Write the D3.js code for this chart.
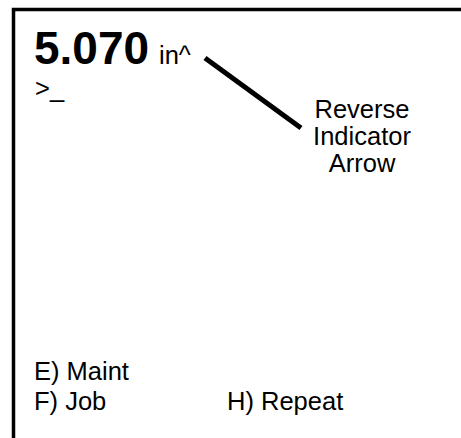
<!DOCTYPE html>
<html>
<head>
<meta charset="utf-8">
<script src="https://cdn.jsdelivr.net/npm/d3@7"></script>
<style>
  body { margin: 0; background: #fff; }
  svg text { font-family: "Liberation Sans", Arial, sans-serif; fill: #000; }
</style>
</head>
<body>
<div id="screen"></div>
<script>
var reading = "5.070";
var unit = "in^";
var prompt = ">_";
var calloutLines = ["Reverse", "Indicator", "Arrow"];
var menuLeft = ["E) Maint", "F) Job"];
var menuRight = ["", "H) Repeat"];

var width = 461, height = 438;
var fs = 25.5;

var svg = d3.select("#screen").append("svg")
  .attr("width", width)
  .attr("height", height);

// screen frame, runs off the right and bottom edge
svg.append("path")
  .attr("d", "M13.5," + height + "V9.5H" + width)
  .attr("fill", "none")
  .attr("stroke", "#000")
  .attr("stroke-width", 3.5);

svg.append("text")
  .attr("x", 34)
  .attr("y", 64)
  .attr("font-size", 46)
  .attr("font-weight", "bold")
  .text(reading);

svg.append("text")
  .attr("x", 159)
  .attr("y", 64)
  .attr("font-size", fs)
  .text(unit);

svg.append("text")
  .attr("x", 35)
  .attr("y", 97)
  .attr("font-size", fs)
  .text(prompt);

// pointer line to the indicator
svg.append("line")
  .attr("x1", 205).attr("y1", 58)
  .attr("x2", 301).attr("y2", 128)
  .attr("stroke", "#000")
  .attr("stroke-width", 5);

var yCallout = d3.scaleLinear().domain([0, calloutLines.length - 1]).range([118, 172]);

svg.selectAll(".callout")
  .data(calloutLines)
  .enter().append("text")
  .attr("class", "callout")
  .attr("x", 362)
  .attr("y", function(d, i) { return yCallout(i); })
  .attr("text-anchor", "middle")
  .attr("font-size", fs)
  .text(function(d) { return d; });

var yMenu = d3.scaleLinear().domain([0, 1]).range([380, 410]);

svg.selectAll(".menu-left")
  .data(menuLeft)
  .enter().append("text")
  .attr("class", "menu-left")
  .attr("x", 34)
  .attr("y", function(d, i) { return yMenu(i); })
  .attr("font-size", fs)
  .text(function(d) { return d; });

svg.selectAll(".menu-right")
  .data(menuRight)
  .enter().append("text")
  .attr("class", "menu-right")
  .attr("x", 227)
  .attr("y", function(d, i) { return yMenu(i); })
  .attr("font-size", fs)
  .text(function(d) { return d; });
</script>
</body>
</html>
